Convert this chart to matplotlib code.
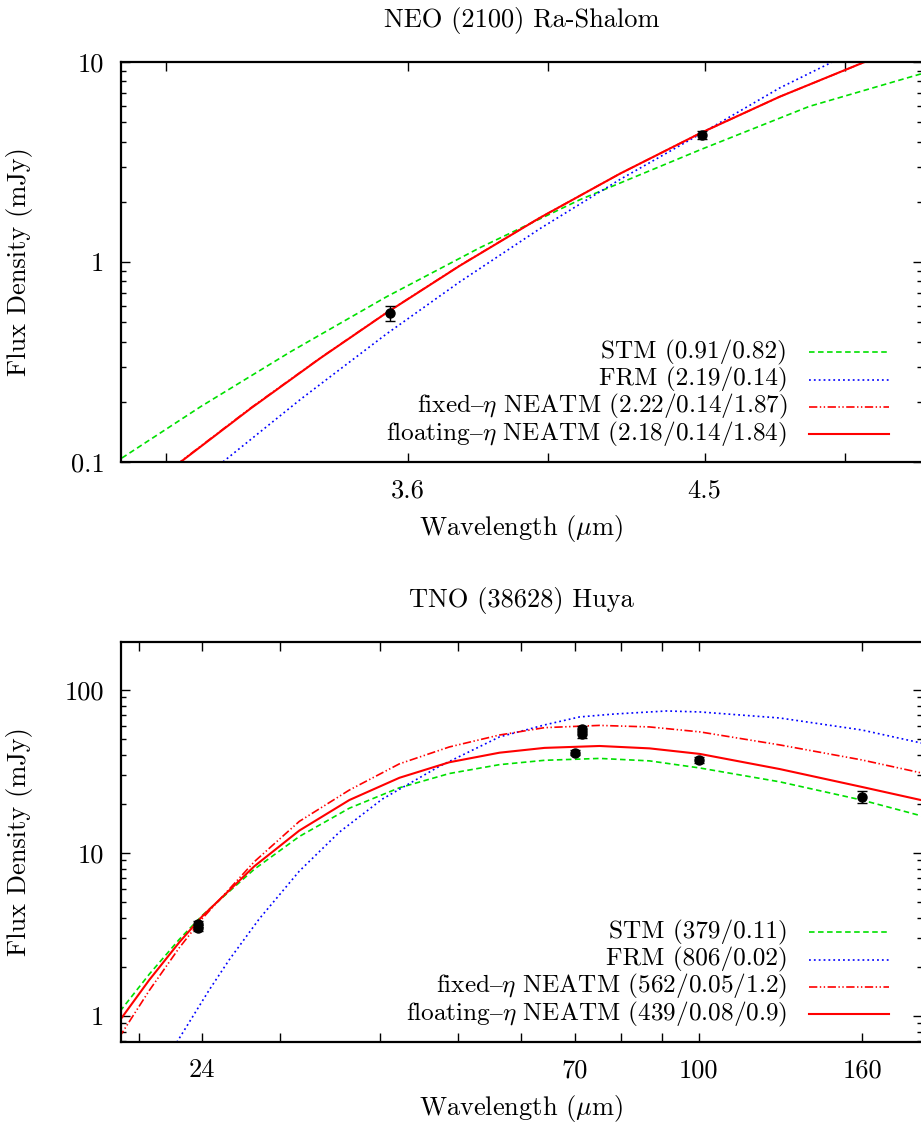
import matplotlib
matplotlib.use("Agg")
import matplotlib.pyplot as plt
from matplotlib.ticker import LogLocator, NullLocator, NullFormatter

plt.rcParams["font.family"] = ["cmr10", "DejaVu Serif"]
plt.rcParams["mathtext.fontset"] = "cm"
plt.rcParams["axes.formatter.use_mathtext"] = True
plt.rcParams["lines.scale_dashes"] = False
plt.rcParams["font.size"] = 19

# ---- NEO (2100) Ra-Shalom ----
neo_wl = [3.55, 4.49]
neo_flux = [0.556, 4.30]
neo_err = [0.05, 0.20]

neo_stm_wl = [2.902, 3.079, 3.295, 3.541, 3.800, 4.097, 4.487, 4.869, 5.293, 5.369]
neo_stm = [0.1047, 0.189, 0.356, 0.669, 1.18, 2.05, 3.65, 6.0, 8.7, 9.2]

neo_frm_wl = [3.079, 3.131, 3.320, 3.541, 3.743, 3.975, 4.222, 4.487, 4.761, 4.954, 5.094]
neo_frm = [0.0809, 0.100, 0.206, 0.436, 0.797, 1.467, 2.585, 4.38, 7.41, 10.0, 12.3]

neo_neatm_wl = [2.988, 3.033, 3.197, 3.370, 3.541, 3.743, 3.975, 4.222, 4.487, 4.761, 5.087, 5.210]
neo_fixed = [0.0845, 0.1005, 0.186, 0.332, 0.557, 0.961, 1.665, 2.765, 4.42, 6.70, 10.13, 11.64]
neo_float = [0.0841, 0.100, 0.185, 0.331, 0.556, 0.959, 1.663, 2.764, 4.42, 6.70, 10.14, 11.65]

neo_labels = ["STM (0.91/0.82)", "FRM (2.19/0.14)",
              "fixed$\u2013\\eta$ NEATM (2.22/0.14/1.87)",
              "floating$\u2013\\eta$ NEATM (2.18/0.14/1.84)"]
neo_xticks = [3.0, 3.6, 4.0, 4.5, 5.0]
neo_xticklabels = ["", "3.6", "", "4.5", ""]
neo_yticks = [0.1, 1, 10]
neo_yticklabels = ["0.1", "1", "10"]

# ---- TNO (38628) Huya ----
tno_wl = [23.68, 23.68, 71.42, 71.42, 70.0, 100.0, 160.0]
tno_flux = [3.45, 3.65, 57.5, 53.5, 41.2, 37.2, 22.1]
tno_err = [0.15, 0.15, 2.5, 2.5, 1.5, 1.5, 2.0]

tno_wl_grid = [18.37, 18.96, 20.61, 22.46, 24.0, 27.87, 31.72, 36.63, 42.30,
               48.84, 56.40, 64.19, 75.20, 86.8, 100.3, 126.2, 159.8, 189.4, 200.0]
tno_stm = [0.868, 1.07, 1.80, 2.94, 4.13, 7.93, 12.6, 18.8, 25.1,
           30.7, 34.8, 37.0, 38.0, 36.7, 33.2, 27.3, 21.1, 16.9, 15.7]
tno_fixed = [0.585, 0.754, 1.43, 2.61, 3.95, 8.82, 15.6, 24.3, 35.2,
             44.7, 52.9, 58.7, 60.6, 59.3, 55.3, 46.0, 37.2, 31.0, 29.3]
tno_float = [0.743, 0.945, 1.66, 2.82, 4.08, 8.27, 13.7, 21.1, 28.9,
             36.0, 41.2, 44.1, 45.3, 43.8, 40.5, 32.7, 25.4, 21.1, 20.0]

tno_frm_wl = [21.83, 22.33, 24.49, 25.94, 28.28, 31.72, 35.59, 40.28, 47.46,
              56.40, 64.19, 71.0, 78.5, 91.2, 100.3, 126.2, 159.8, 189.4, 200.0]
tno_frm = [0.576, 0.693, 1.443, 2.21, 3.94, 7.72, 13.4, 21.4, 34.0,
           51.5, 61.0, 68.3, 71.2, 74.3, 73.3, 67.3, 56.8, 47.3, 44.7]

tno_labels = ["STM (379/0.11)", "FRM (806/0.02)",
              "fixed$\u2013\\eta$ NEATM (562/0.05/1.2)",
              "floating$\u2013\\eta$ NEATM (439/0.08/0.9)"]
tno_xticks = [20, 24, 30, 40, 50, 60, 70, 80, 90, 100, 160]
tno_xticklabels = ["", "24", "", "", "", "", "70", "", "", "100", "160"]
tno_yticks = [1, 10, 100]
tno_yticklabels = ["1", "10", "100"]

GREEN = "#00e000"
BLUE = "#0000ff"
RED = "#ff0000"
STYLES = [
    dict(color=GREEN, lw=1.2, dashes=(4, 2.5)),
    dict(color=BLUE, lw=1.2, dashes=(1.3, 2.2)),
    dict(color=RED, lw=1.2, dashes=(6, 1.8, 1, 1.8, 1, 1.8)),
    dict(color=RED, lw=1.5),
]

fig = plt.figure(figsize=(9.21, 11.26), dpi=100)
W, H = 921.0, 1126.0
ax1 = fig.add_axes([121 / W, 1 - 462 / H, 801 / W, 400 / H])
ax2 = fig.add_axes([121 / W, 1 - 1042 / H, 801 / W, 400 / H])


def draw(ax, curves, labels):
    for (wl, flux), st in zip(curves, STYLES):
        ax.plot(wl, flux, **st)
    # gnuplot-style key: right-aligned text, sample line to its right
    for i, (lab, st) in enumerate(zip(labels, STYLES)):
        y = 0.274 - 0.068 * i
        ax.text(0.832, y, lab, transform=ax.transAxes, ha="right", va="center",
                fontsize=18.2)
        ax.plot([0.859, 0.959], [y, y], transform=ax.transAxes, **st)


def style(ax, xlim, ylim, xticks, xticklabels, yticks, yticklabels, title):
    ax.set_xscale("log")
    ax.set_yscale("log")
    ax.set_xlim(*xlim)
    ax.set_ylim(*ylim)
    ax.set_xticks(xticks, xticklabels)
    ax.xaxis.set_minor_locator(NullLocator())
    ax.set_yticks(yticks, yticklabels)
    ax.yaxis.set_minor_locator(LogLocator(base=10, subs=range(2, 10)))
    ax.yaxis.set_minor_formatter(NullFormatter())
    ax.tick_params(which="both", direction="in", top=True, right=True, width=1)
    ax.tick_params(which="major", length=6.5, pad=12)
    ax.tick_params(which="minor", length=3.5)
    for s in ax.spines.values():
        s.set_linewidth(1.6)
    ax.set_xlabel("Wavelength ($\\mu$m)")
    ax.set_ylabel("Flux Density (mJy)")
    ax.xaxis.set_label_coords(0.5, -0.128)
    ax.yaxis.set_label_coords(-0.11, 0.5)
    ax.set_title(title, pad=25, fontsize=19)


draw(ax1, [(neo_stm_wl, neo_stm), (neo_frm_wl, neo_frm),
           (neo_neatm_wl, neo_fixed), (neo_neatm_wl, neo_float)], neo_labels)
ax1.errorbar(neo_wl, neo_flux, yerr=neo_err, fmt="o", color="black", ms=6.5,
             capsize=3.5, elinewidth=1, capthick=1, zorder=5)
style(ax1, (2.9, 5.3), (0.1, 10), neo_xticks, neo_xticklabels, neo_yticks, neo_yticklabels,
      "NEO (2100) Ra-Shalom")

draw(ax2, [(tno_wl_grid, tno_stm), (tno_frm_wl, tno_frm),
           (tno_wl_grid, tno_fixed), (tno_wl_grid, tno_float)], tno_labels)
ax2.errorbar(tno_wl, tno_flux, yerr=tno_err, fmt="o", color="black", ms=6.5,
             capsize=3.5, elinewidth=1, capthick=1, zorder=5)
style(ax2, (19.0, 190.0), (0.69, 197), tno_xticks, tno_xticklabels, tno_yticks, tno_yticklabels,
      "TNO (38628) Huya")

fig.savefig("out.png", dpi=100)
